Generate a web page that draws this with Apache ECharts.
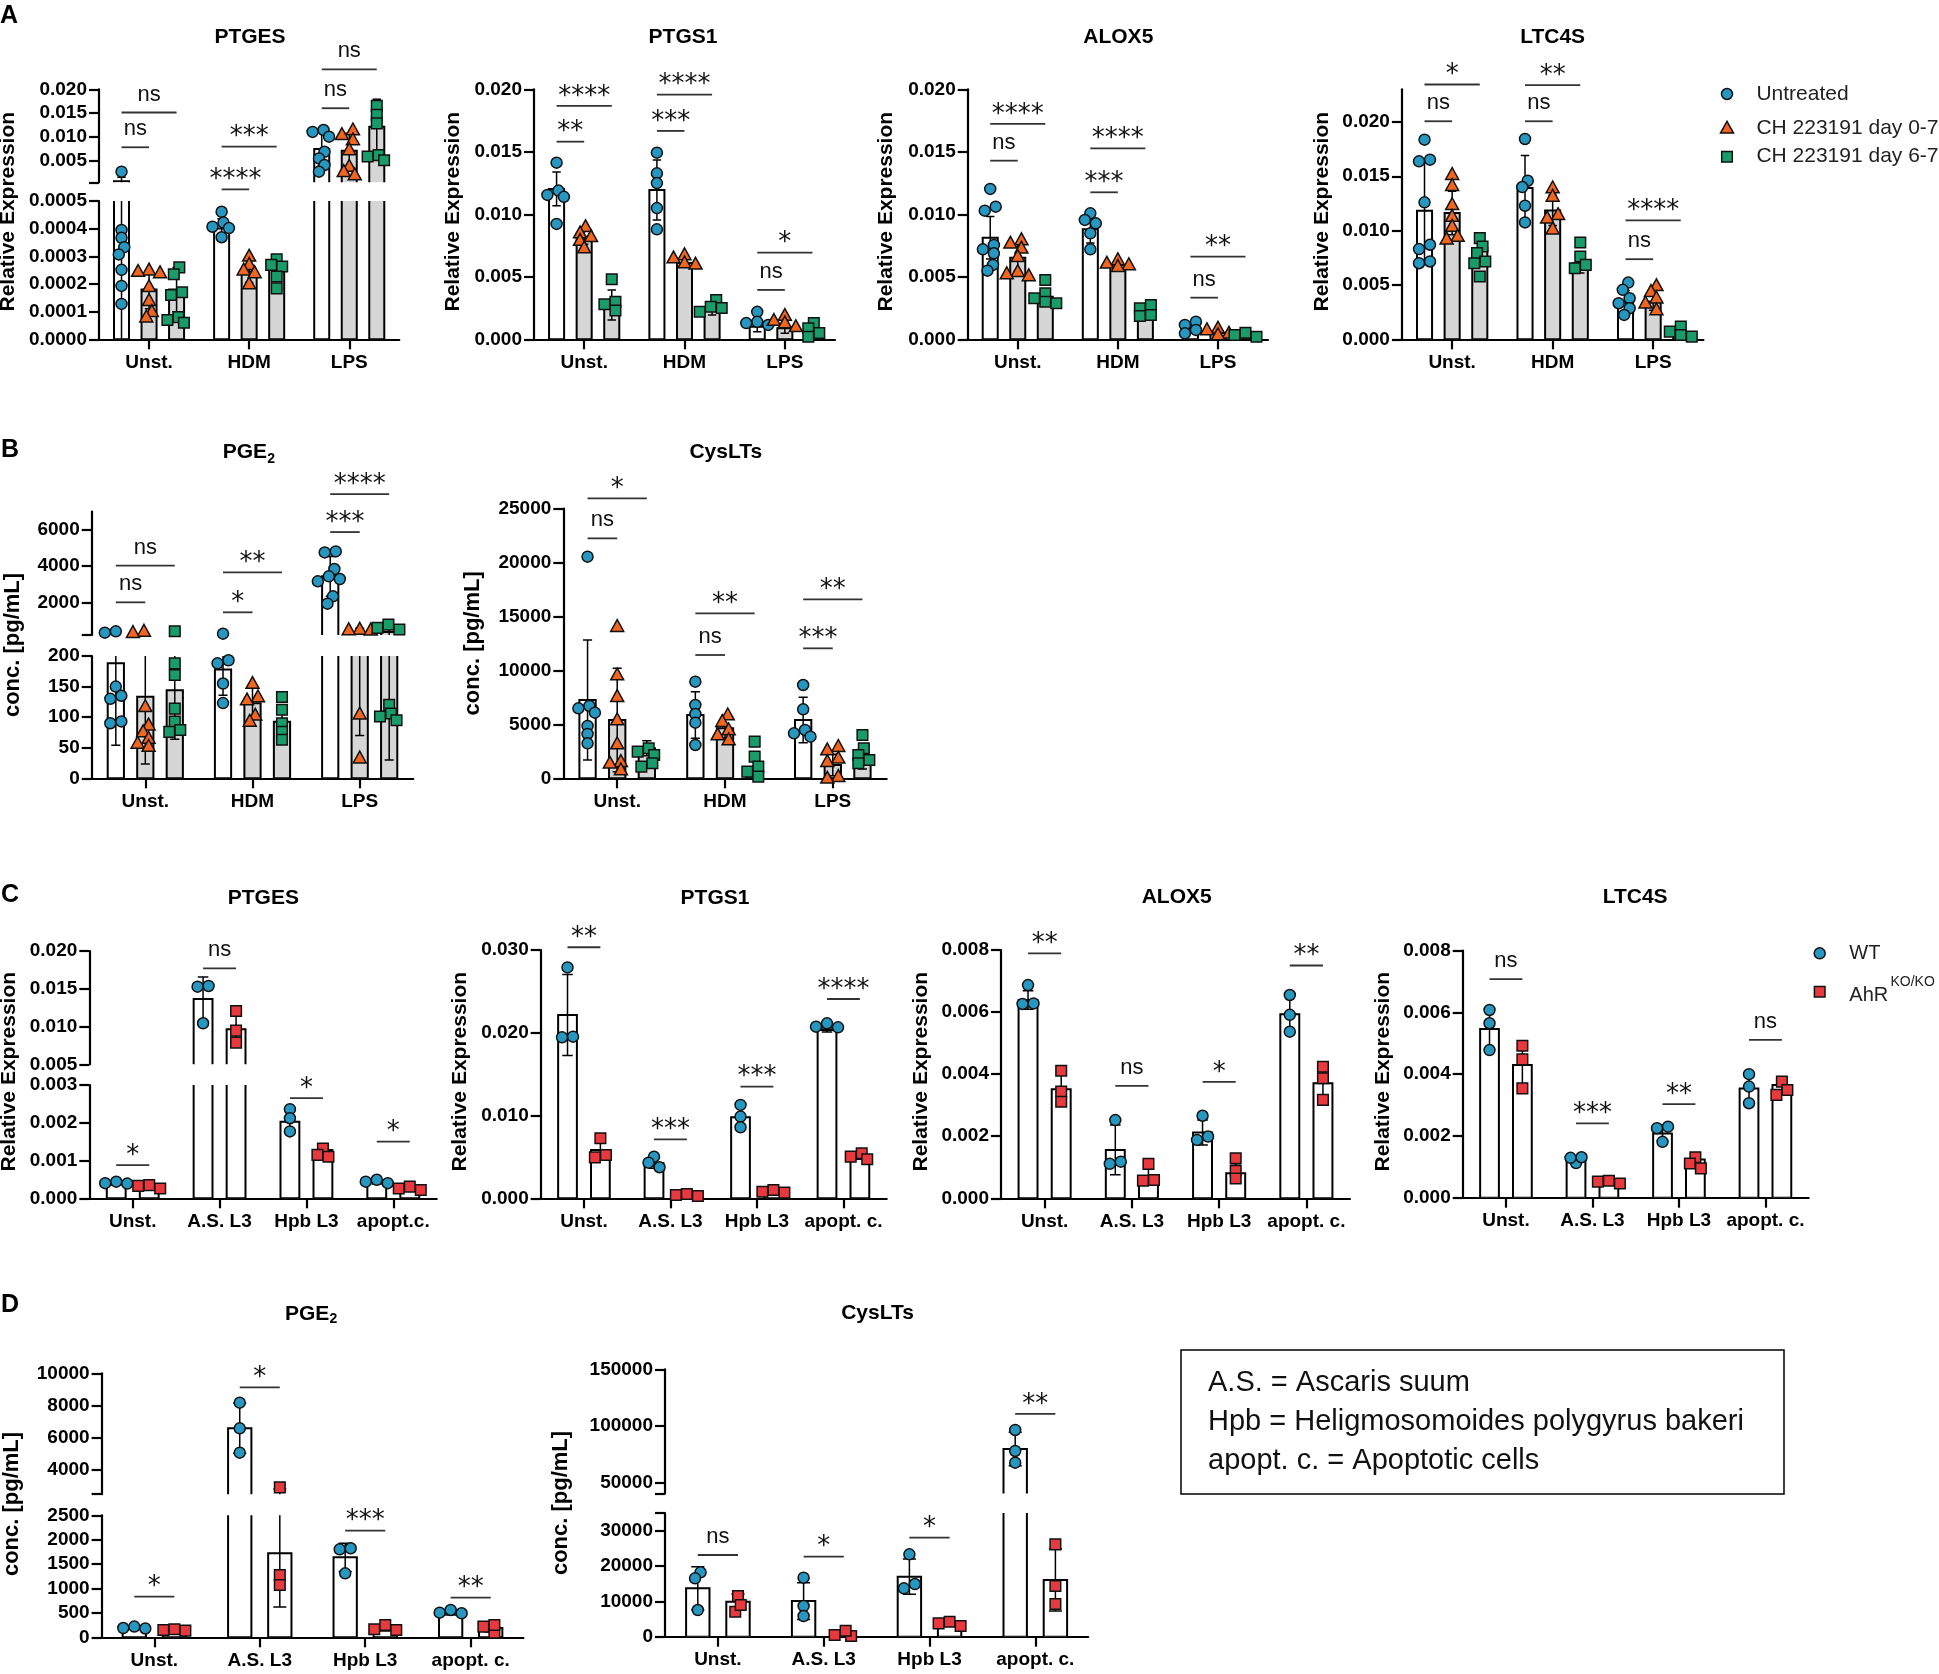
<!DOCTYPE html>
<html><head><meta charset="utf-8">
<script src="https://cdn.jsdelivr.net/npm/echarts@6.0.0/dist/echarts.min.js"></script>
<style>html,body{margin:0;padding:0;background:#fff}#c{width:1939px;height:1674px}</style>
</head><body><div id="c"></div><script>
// ======================= DATA =======================
// Panel A (qPCR, CH 223191 treatment)
const A_groups = ['Untreated', 'CH 223191 day 0-7', 'CH 223191 day 6-7'];
const A_cats = ['Unst.', 'HDM', 'LPS'];
const A1_yLow = [0, 0.0001, 0.0002, 0.0003, 0.0004, 0.0005];
const A1_yUp = [0.005, 0.010, 0.015, 0.020];
const A_yTicks = [0, 0.005, 0.010, 0.015, 0.020];

const A1_mean = [[0.00058, 0.00018, 0.00018], [0.000401, 0.000245, 0.000255], [0.0074, 0.0070, 0.0121]];
const A1_sd = [[0.00082, 0.00007, 0.00008], [0.000035, 0.00004, 0.000042], [0.0035, 0.0037, 0.0058]];
const A1_pts = [
  [[0.0026, 0.000395, 0.000367, 0.000333, 0.000307, 0.000251, 0.000193, 0.000128], [0.00025, 0.000245, 0.00024, 0.00019, 0.00014, 0.0001, 0.00008], [0.00026, 0.000235, 0.00017, 0.00016, 0.00008, 0.00007, 0.00006]],
  [[0.000461, 0.000422, 0.000407, 0.000402, 0.000369], [0.0003, 0.00027, 0.00025, 0.00024, 0.0002], [0.000289, 0.000269, 0.000263, 0.000227, 0.000184]],
  [[0.0114, 0.011, 0.010, 0.0068, 0.0054, 0.004, 0.0026], [0.0114, 0.0104, 0.0093, 0.0072, 0.0037, 0.0026, 0.0019], [0.0165, 0.0146, 0.0128, 0.0061, 0.0058, 0.005]]
];
const A1_sig = [[0,0,1,0.00775,'ns',1],[0,0,2,0.0151,'ns',1],[1,0,1,0.000542,'****',0],[1,0,2,0.0079,'***',1],[2,0,1,0.016,'ns',1],[2,0,2,0.0242,'ns',1]];

const A2_mean = [[0.01203, 0.0082, 0.00275], [0.01195, 0.0061, 0.00235], [0.0010, 0.00088, 0.0006]];
const A2_sd = [[0.00135, 0.0006, 0.0012], [0.0024, 0.0003, 0.0004], [0.0004, 0.0004, 0.0004]];
const A2_pts = [
  [[0.01413, 0.0119, 0.01155, 0.0114, 0.00923], [0.009, 0.0085, 0.0082, 0.0079, 0.0073], [0.0048, 0.003, 0.0028, 0.0023]],
  [[0.01493, 0.01328, 0.0125, 0.0105, 0.0088], [0.00675, 0.0065, 0.0061, 0.006], [0.00315, 0.0026, 0.0025, 0.0022]],
  [[0.0022, 0.0014, 0.0013, 0.00115], [0.0019, 0.0015, 0.0013, 0.001], [0.0013, 0.00088, 0.0005, 0.0002]]
];
const A2_sig = [[0,0,1,0.01581,'**'],[0,0,2,0.01867,'****'],[1,0,1,0.01667,'***'],[1,0,2,0.01957,'****'],[2,0,1,0.00395,'ns'],[2,0,2,0.00693,'*']];

const A3_mean = [[0.00813, 0.00653, 0.00341], [0.0088, 0.00595, 0.00221], [0.0009, 0.0005, 0.00035]];
const A3_sd = [[0.0017, 0.0011, 0.0006], [0.0011, 0.0002, 0.0004], [0.0004, 0.0002, 0.00015]];
const A3_pts = [
  [[0.01203, 0.01061, 0.01029, 0.00755, 0.0072, 0.00688, 0.00595, 0.00549], [0.00795, 0.00768, 0.00728, 0.00661, 0.00541, 0.00523, 0.00507], [0.00475, 0.00368, 0.00328, 0.00301, 0.00288]],
  [[0.01008, 0.00955, 0.00928, 0.00848, 0.0072], [0.00635, 0.00608, 0.00595, 0.00581], [0.00275, 0.00248, 0.00195, 0.00187]],
  [[0.00141, 0.00115, 0.00075, 0.00048], [0.00088, 0.00075, 0.00048, 0.00035], [0.00053, 0.00035, 0.0002]]
];
const A3_sig = [[0,0,1,0.01429,'ns'],[0,0,2,0.01723,'****'],[1,0,1,0.01176,'***'],[1,0,2,0.01528,'****'],[2,0,1,0.00333,'ns'],[2,0,2,0.00661,'**']];

const A4_mean = [[0.01183, 0.01161, 0.00839], [0.01392, 0.01186, 0.007], [0.00347, 0.00347, 0.00055]];
const A4_sd = [[0.0047, 0.002, 0.0012], [0.003, 0.0014, 0.0009], [0.001, 0.0008, 0.0004]];
const A4_pts = [
  [[0.01837, 0.01653, 0.01637, 0.0126, 0.0087, 0.0083, 0.00716, 0.007], [0.01515, 0.01413, 0.01238, 0.0113, 0.01038, 0.00946, 0.00922], [0.00931, 0.00854, 0.00793, 0.00716, 0.007, 0.00578]],
  [[0.01843, 0.01459, 0.01401, 0.01229, 0.01075], [0.01392, 0.01315, 0.01146, 0.01115, 0.01014], [0.00891, 0.00762, 0.00685, 0.00654]],
  [[0.00522, 0.00455, 0.00378, 0.00332, 0.00286, 0.00224], [0.00492, 0.00439, 0.00378, 0.00332, 0.0027], [0.00117, 0.00071, 0.0004, 0.00025]]
];
const A4_sig = [[0,0,1,0.02006,'ns'],[0,0,2,0.02344,'*'],[1,0,1,0.02006,'ns'],[1,0,2,0.02338,'**'],[2,0,1,0.00737,'ns'],[2,0,2,0.01094,'****']];

// Panel B (ELISA)
const B1_yLow = [0, 50, 100, 150, 200];
const B1_yUp = [2000, 4000, 6000];
const B2_yTicks = [0, 5000, 10000, 15000, 20000, 25000];
const B1_mean = [[188, 133.5, 144], [178, 122.6, 92.6], [3431, 320, 360]];
const B1_sd = [[134, 110, 80], [42, 25, 25], [1100, 250, 330]];
const B1_pts = [
  [[400, 330, 150, 135, 130, 93, 90], [400, 330, 117, 87, 76, 65, 57, 52], [404, 188, 169, 114, 93, 79, 76]],
  [[275, 193, 188, 155, 123], [155, 133, 128, 103, 93], [133, 112, 90, 76, 63]],
  [[4807, 4752, 3835, 3431, 3284, 3156, 2330, 1927], [510, 480, 470, 105, 33], [770, 590, 500, 120, 106, 101, 95]]
];
const B1_sig = [[0,0,1,2000,'ns',1],[0,0,2,4018,'ns',1],[1,0,1,1450,'*',1],[1,0,2,3651,'**',1],[2,0,1,5872,'***',1],[2,0,2,7963,'****',1]];

const B2_mean = [[7262, 5408, 2781], [5871, 4635, 772], [5408, 1236, 1854]];
const B2_sd = [[5560, 4790, 700], [2160, 900, 1100], [2100, 1000, 1000]];
const B2_pts = [
  [[20550, 6706, 6490, 6088, 4852, 4110, 3245], [14060, 9580, 7571, 5408, 3183, 1545, 1390, 772], [2781, 2472, 2163, 1390, 1082]],
  [[8962, 6798, 5964, 5161, 3090], [5871, 5253, 4481, 4017, 3554], [3400, 2009, 1082, 618, 155]],
  [[8652, 6397, 4481, 4172, 3863], [2936, 2627, 1854, 1545, 155, 0], [4017, 2781, 2163, 1700, 1390]]
];
const B2_sig = [[0,0,1,22250,'ns'],[0,0,2,25958,'*'],[1,0,1,11434,'ns'],[1,0,2,15297,'**'],[2,0,1,12052,'***'],[2,0,2,16595,'**']];

// Panel C (qPCR, WT vs AhR KO)
const C_groups = ['WT', 'AhR KO/KO'];
const C1_cats = ['Unst.', 'A.S. L3', 'Hpb L3', 'apopt.c.'];
const C_cats = ['Unst.', 'A.S. L3', 'Hpb L3', 'apopt. c.'];
const C1_yLow = [0, 0.001, 0.002, 0.003];
const C1_yUp = [0.005, 0.010, 0.015, 0.020];
const C2_yTicks = [0, 0.010, 0.020, 0.030];
const C34_yTicks = [0, 0.002, 0.004, 0.006, 0.008];

const C1_mean = [[0.00038, 0.0003], [0.01365, 0.00963], [0.00203, 0.00128], [0.00043, 0.00026]];
const C1_sd = [[0.00003, 0.00005], [0.0029, 0.0021], [0.0003, 0.0001], [0.00005, 0.00005]];
const C1_pts = [
  [[0.00044, 0.0004, 0.00039], [0.00035, 0.00026, 0.00033]],
  [[0.01043, 0.01537, 0.01528], [0.01206, 0.00946, 0.00787]],
  [[0.00236, 0.00212, 0.00177], [0.00132, 0.00115, 0.0011]],
  [[0.00044, 0.00049, 0.0004], [0.00022, 0.00031, 0.00026]]
];
const C1_sig = [[0,0,1,0.00088,'*',0],[1,0,1,0.0177,'ns',1],[2,0,1,0.00265,'*',0],[3,0,1,0.0015,'*',0]];

const C2_mean = [[0.02215, 0.00584], [0.00423, 0.0004], [0.00979, 0.00068], [0.02034, 0.00503]];
const C2_sd = [[0.0049, 0.0012], [0.0006, 0.00012], [0.0013, 0.0002], [0.00025, 0.0003]];
const C2_pts = [
  [[0.0279, 0.01953, 0.01945], [0.00725, 0.00524, 0.00495]],
  [[0.00503, 0.00431, 0.00375], [0.00052, 0.0004, 0.00028]],
  [[0.01128, 0.00987, 0.00858], [0.00101, 0.0008, 0.00068]],
  [[0.02114, 0.02074, 0.02066], [0.00544, 0.00503, 0.00471]]
];
const C2_sig = [[0,0,1,0.03033,'**'],[1,0,1,0.00713,'***'],[2,0,1,0.01349,'***'],[3,0,1,0.02408,'****']];

const C3_mean = [[0.00639, 0.00351], [0.00156, 0.00072], [0.00212, 0.00081], [0.00593, 0.00371]];
const C3_sd = [[0.0003, 0.0005], [0.0008, 0.0003], [0.0004, 0.0003], [0.0006, 0.0005]];
const C3_pts = [
  [[0.00687, 0.00628, 0.00626], [0.00411, 0.00344, 0.00311]],
  [[0.00252, 0.00118, 0.00111], [0.00111, 0.00059, 0.00057]],
  [[0.00266, 0.00199, 0.00188], [0.00129, 0.00089, 0.00064]],
  [[0.00655, 0.00591, 0.00537], [0.00424, 0.00387, 0.00317]]
];
const C3_sig = [[0,0,1,0.00789,'**'],[1,0,1,0.00362,'ns'],[2,0,1,0.00375,'*'],[3,0,1,0.0075,'**']];

const C4_mean = [[0.00546, 0.0043], [0.00122, 0.00052], [0.00208, 0.00124], [0.00354, 0.00365]];
const C4_sd = [[0.00065, 0.0007], [0.0001, 0.00005], [0.00027, 0.00018], [0.00047, 0.0002]];
const C4_pts = [
  [[0.00608, 0.00565, 0.00478], [0.00492, 0.00448, 0.00354]],
  [[0.00112, 0.00131, 0.00129], [0.00052, 0.00055, 0.00046]],
  [[0.0023, 0.00225, 0.00181], [0.00131, 0.00111, 0.00095]],
  [[0.004, 0.0036, 0.00306], [0.00376, 0.00349, 0.00333]]
];
const C4_sig = [[0,0,1,0.00708,'ns'],[1,0,1,0.00241,'***'],[2,0,1,0.00303,'**'],[3,0,1,0.00511,'ns']];

// Panel D (ELISA, WT vs AhR KO)
const D1_yLow = [0, 500, 1000, 1500, 2000, 2500];
const D1_yUp = [4000, 6000, 8000, 10000];
const D2_yLow = [0, 10000, 20000, 30000];
const D2_yUp = [50000, 100000, 150000];
const D1_mean = [[198, 160], [6585, 1721], [1639, 184], [492, 190]];
const D1_sd = [[20, 15], [1550, 1100], [290, 55], [35, 80]];
const D1_pts = [
  [[190, 220, 180], [150, 164, 137]],
  [[8177, 6585, 5075], [2925, 1277, 1072]],
  [[1824, 1803, 1311], [164, 253, 150]],
  [[492, 560, 505], [96, 253, 219]]
];
const D1_sig = [[0,0,1,833,'*',0],[1,0,1,9129,'*',1],[2,0,1,2186,'***',0],[3,0,1,813,'**',0]];

const D2_mean = [[13679, 9900], [10094, 755], [16981, 3774], [79499, 16038]];
const D2_sd = [[6100, 2200], [5200, 800], [5000, 600], [14800, 8800]];
const D2_pts = [
  [[18208, 16509, 7547], [11509, 7075, 8962]],
  [[16698, 8679, 5849], [189, 1698, 472]],
  [[23302, 13679, 14906], [3019, 4245, 3774]],
  [[96313, 77729, 67404], [26132, 14340, 9245]]
];
const D2_sig = [[0,0,1,23113,'ns',0],[1,0,1,22642,'*',0],[2,0,1,28019,'*',0],[3,0,1,110472,'**',1]];

const NOTE_LINES = ['A.S. = Ascaris suum', 'Hpb = Heligmosomoides polygyrus bakeri', 'apopt. c. = Apoptotic cells'];

// ======================= STYLE / LAYOUT =======================
const FONT = "'Liberation Sans', Arial, Helvetica, sans-serif";
const TEAL = '#2597c0', ORANGE = '#f1651f', GREEN = '#199c69', RED = '#e8393e', GRAY = '#d6d6d6';
const RE = 'Relative Expression', CONC = 'conc. [pg/mL]';

function one(min, max, top, bottom, t, dec) { return [{min, max, top, bottom, labels: t, ticks: t, dec}]; }

const P = [
  {cats:A_cats, mean:A1_mean, sd:A1_sd, pts:A1_pts, sig:A1_sig, ng:3, left:99, right:399.3,
   segs:[{min:0, max:0.0005, top:201, bottom:339.3, labels:A1_yLow, ticks:A1_yLow, dec:4},
         {min:0.00035, max:0.020, top:89.3, bottom:182.3, labels:A1_yUp, ticks:[0.00035].concat(A1_yUp), dec:3}],
   title:'PTGES', tx:250, ty:37, yt:RE, ytx:8.5, yty:211.7},
  {cats:A_cats, mean:A2_mean, sd:A2_sd, pts:A2_pts, sig:A2_sig, ng:3, left:534, right:835,
   segs:one(0, 0.020, 89.3, 339.3, A_yTicks, 3), title:'PTGS1', tx:683, ty:37, yt:RE, ytx:453.3, yty:211.7},
  {cats:A_cats, mean:A3_mean, sd:A3_sd, pts:A3_pts, sig:A3_sig, ng:3, left:967.7, right:1268,
   segs:one(0, 0.020, 89.3, 339.3, A_yTicks, 3), title:'ALOX5', tx:1118.3, ty:37, yt:RE, ytx:886.7, yty:211.7},
  {cats:A_cats, mean:A4_mean, sd:A4_sd, pts:A4_pts, sig:A4_sig, ng:3, left:1401.9, right:1703.4,
   segs:one(0, 0.023, 89.3, 339.3, A_yTicks, 3), title:'LTC4S', tx:1552.6, ty:37, yt:RE, ytx:1322.4, yty:211.7},

  {cats:A_cats, mean:B1_mean, sd:B1_sd, pts:B1_pts, sig:B1_sig, ng:3, left:91.7, right:413.3,
   segs:[{min:0, max:200, top:656, bottom:778.3, labels:B1_yLow, ticks:B1_yLow, dec:0},
         {min:200, max:7000, top:511.6, bottom:635, labels:B1_yUp, ticks:[200].concat(B1_yUp), dec:0}],
   title:'PGE', sub:true, tx:222.7, ty:452.5, suby:459, yt:CONC, ytx:12.5, yty:645},
  {cats:A_cats, mean:B2_mean, sd:B2_sd, pts:B2_pts, sig:B2_sig, ng:3, left:563.3, right:886.7,
   segs:one(0, 25000, 508.7, 778.3, B2_yTicks, 0), title:'CysLTs', tx:725.8, ty:452.5, yt:CONC, ytx:473.3, yty:643.3},

  {cats:C1_cats, mean:C1_mean, sd:C1_sd, pts:C1_pts, sig:C1_sig, ng:2, left:89.3, right:436.7,
   segs:[{min:0, max:0.003, top:1085, bottom:1198.3, labels:C1_yLow, ticks:C1_yLow, dec:3},
         {min:0.005, max:0.020, top:951, bottom:1064.3, labels:C1_yUp, ticks:C1_yUp, dec:3}],
   title:'PTGES', tx:263.3, ty:898.3, yt:RE, ytx:9.2, yty:1071.7},
  {cats:C_cats, mean:C2_mean, sd:C2_sd, pts:C2_pts, sig:C2_sig, ng:2, left:540.7, right:886.7,
   segs:one(0, 0.030, 950, 1198.3, C2_yTicks, 3), title:'PTGS1', tx:715, ty:898.3, yt:RE, ytx:460.5, yty:1071.7},
  {cats:C_cats, mean:C3_mean, sd:C3_sd, pts:C3_pts, sig:C3_sig, ng:2, left:1001, right:1350,
   segs:one(0, 0.008, 950, 1198.3, C34_yTicks, 3), title:'ALOX5', tx:1176.7, ty:897, yt:RE, ytx:921, yty:1071.7},
  {cats:C_cats, mean:C4_mean, sd:C4_sd, pts:C4_pts, sig:C4_sig, ng:2, left:1462.7, right:1808.7,
   segs:one(0, 0.008, 950.7, 1197.7, C34_yTicks, 3), title:'LTC4S', tx:1635.1, ty:897, yt:RE, ytx:1382.9, yty:1071.7},

  {cats:C_cats, mean:D1_mean, sd:D1_sd, pts:D1_pts, sig:D1_sig, ng:2, left:101.6, right:523.4,
   segs:[{min:0, max:2500, top:1515.3, bottom:1637.3, labels:D1_yLow, ticks:D1_yLow, dec:0},
         {min:2500, max:10000, top:1373.3, bottom:1494.2, labels:D1_yUp, ticks:[2500].concat(D1_yUp), dec:0}],
   title:'PGE', sub:true, tx:285, ty:1314, suby:1319, yt:CONC, ytx:12, yty:1504},
  {cats:C_cats, mean:D2_mean, sd:D2_sd, pts:D2_pts, sig:D2_sig, ng:2, left:665, right:1088.2,
   segs:[{min:0, max:35000, top:1513, bottom:1636.7, labels:D2_yLow, ticks:D2_yLow.concat([35000]), dec:0},
         {min:40000, max:150000, top:1369.3, bottom:1493.6, labels:D2_yUp, ticks:[40000].concat(D2_yUp), dec:0}],
   title:'CysLTs', tx:877.5, ty:1313.5, yt:CONC, ytx:561.4, yty:1503}
];

function layoutOf(ng, band) {
  if (ng === 3) return {off: [-0.275 * band, 0, 0.275 * band], bw: 0.17 * band - 2};
  return {off: [-0.19 * band, 0.19 * band], bw: 0.24 * band - 2};
}
function colorOf(ng, g) { return ng === 3 ? [TEAL, ORANGE, GREEN][g] : [TEAL, RED][g]; }
function shapeOf(ng, g) { return ng === 3 ? ['circle', 'triangle', 'square'][g] : ['circle', 'square'][g]; }
function symbolEl(shape, x, y, fill) {
  const st = {fill: fill, stroke: '#111', lineWidth: 1.5};
  if (shape === 'circle') return {type: 'circle', shape: {cx: x, cy: y, r: 5.5}, style: st};
  if (shape === 'triangle') return {type: 'polygon', shape: {points: [[x, y - 7], [x - 6.5, y + 4.8], [x + 6.5, y + 4.8]]}, style: st};
  return {type: 'rect', shape: {x: x - 5.3, y: y - 5.3, width: 10.6, height: 10.6}, style: st};
}
// Prism-like column scatter: nudge overlapping points sideways, centred per cluster
const SW_STEP = 5.5, SW_MIN = 7.5;
function swarm(ys) {
  const n = ys.length, order = ys.map((y, i) => i).sort((a, b) => ys[a] - ys[b]);
  const xs = new Array(n).fill(0), placed = [];
  const steps = [0, -1, 1, -2, 2, -3, 3];
  order.forEach(i => {
    for (const s of steps) {
      const x = s * SW_STEP;
      if (placed.every(j => Math.hypot(xs[j] - x, ys[j] - ys[i]) >= SW_MIN)) { xs[i] = x; break; }
    }
    placed.push(i);
  });
  const comp = new Array(n).fill(-1); let cid = 0;
  for (let i = 0; i < n; i++) {
    if (comp[i] >= 0) continue;
    const stack = [i]; comp[i] = cid;
    while (stack.length) {
      const a = stack.pop();
      for (let b = 0; b < n; b++) if (comp[b] < 0 && Math.abs(ys[a] - ys[b]) < SW_MIN) { comp[b] = cid; stack.push(b); }
    }
    cid++;
  }
  for (let c = 0; c < cid; c++) {
    const mem = []; for (let i = 0; i < n; i++) if (comp[i] === c) mem.push(i);
    const m = mem.reduce((s, i) => s + xs[i], 0) / mem.length;
    mem.forEach(i => { xs[i] -= m; });
  }
  return xs;
}

function makeBarRender(p, si) {
  const seg = p.segs[si], upper = si > 0, below = upper ? p.segs[si - 1].max : -Infinity;
  return function (params, api) {
    const c = api.value(0), g = api.value(1), m = api.value(2), sd = api.value(3);
    const cs = params.coordSys;
    const band = api.size([1, 0])[0];
    const L = layoutOf(p.ng, band);
    const base = api.coord([c, m]);
    const cx = base[0] + L.off[g];
    const yTop = base[1];
    const yBot = cs.y + cs.height + (upper ? 14 : 0);
    const half = L.bw / 2, cap = L.bw * 0.28;
    const fill = (p.ng === 3 && g > 0) ? GRAY : '#fff';
    const ch = [];
    if (m > below) {
      ch.push({type: 'rect', shape: {x: cx - half, y: yTop, width: L.bw, height: yBot - yTop}, style: {fill: fill, stroke: '#000', lineWidth: 2}});
    }
    const lo = Math.max(m - sd, 0);
    const yHi = api.coord([c, m + sd])[1], yLo = api.coord([c, lo])[1];
    const es = {stroke: '#000', lineWidth: 1.5};
    if (!upper || m + sd > below) {
      ch.push({type: 'line', shape: {x1: cx, y1: yHi, x2: cx, y2: yLo}, style: es});
      ch.push({type: 'line', shape: {x1: cx - cap, y1: yHi, x2: cx + cap, y2: yHi}, style: es});
      if (m - sd > 0) ch.push({type: 'line', shape: {x1: cx - cap, y1: yLo, x2: cx + cap, y2: yLo}, style: es});
    }
    return {type: 'group', children: ch};
  };
}
function makePtRender(p) {
  return function (params, api) {
    const c = api.value(0), g = api.value(1), v = api.value(2), k = api.value(3);
    const band = api.size([1, 0])[0];
    const L = layoutOf(p.ng, band);
    const list = p.pts[c][g];
    const ys = list.map(val => api.coord([c, val])[1]);
    const xs = swarm(ys);
    const pt = api.coord([c, v]);
    return symbolEl(shapeOf(p.ng, g), pt[0] + L.off[g] + xs[k], pt[1], colorOf(p.ng, g));
  };
}
function makeSigRender(p) {
  return function (params, api) {
    const a = p.sig[api.value(2)];
    const band = api.size([1, 0])[0];
    const L = layoutOf(p.ng, band);
    const base = api.coord([a[0], a[3]]);
    const x1 = base[0] + L.off[a[1]], x2 = base[0] + L.off[a[2]];
    const ns = a[4] === 'ns';
    return {type: 'group', children: [
      {type: 'line', shape: {x1: x1, y1: base[1], x2: x2, y2: base[1]}, style: {stroke: '#333', lineWidth: 1.8}},
      {type: 'text', x: (x1 + x2) / 2, y: base[1] + (ns ? -18 : -9),
       style: {text: a[4], fill: '#111', align: 'center', verticalAlign: 'middle', textAlign: 'center', textVerticalAlign: 'middle',
               font: ns ? ('22px ' + FONT) : "26px 'DejaVu Sans', sans-serif"}}
    ]};
  };
}

// ======================= BUILD OPTION =======================
const grids = [], xAxes = [], yAxes = [], series = [], graphics = [];
function segOf(p, v) { for (let i = 0; i < p.segs.length; i++) if (v <= p.segs[i].max) return i; return p.segs.length - 1; }

P.forEach((p, pi) => {
  p.segs.forEach((s, si) => {
    const gi = grids.length;
    const main = si === 0;
    grids.push({left: p.left, top: s.top, width: p.right - p.left, height: s.bottom - s.top, containLabel: false, outerBoundsMode: 'none'});
    xAxes.push({type: 'category', gridIndex: gi, data: p.cats, boundaryGap: true, show: main,
      axisLine: {show: main, onZero: false, lineStyle: {color: '#000', width: 2.2}},
      axisTick: {show: main, alignWithLabel: true, length: 10, lineStyle: {color: '#000', width: 2.2}},
      axisLabel: {show: main, interval: 0, color: '#000', fontFamily: 'Liberation Sans', fontWeight: 'bold', fontSize: 19, margin: 14},
      splitLine: {show: false}});
    const dec = s.dec;
    yAxes.push({type: 'value', gridIndex: gi, min: s.min, max: s.max, position: 'left',
      axisLine: {show: true, onZero: false, lineStyle: {color: '#000', width: 2.2}},
      axisTick: {show: true, length: 10, customValues: s.ticks, lineStyle: {color: '#000', width: 2.2}},
      axisLabel: {show: true, customValues: s.labels, formatter: v => Number(v).toFixed(dec), color: '#000',
        fontFamily: 'Liberation Sans', fontWeight: 'bold', fontSize: 19, margin: 12},
      splitLine: {show: false}});

    const bars = [];
    p.cats.forEach((c, ci) => { for (let g = 0; g < p.ng; g++) bars.push([ci, g, p.mean[ci][g], p.sd[ci][g]]); });
    series.push({type: 'custom', xAxisIndex: gi, yAxisIndex: gi, clip: true, z: 3, silent: true,
      encode: {x: 0, y: 2}, data: bars, renderItem: makeBarRender(p, si)});

    const pts = [];
    p.cats.forEach((c, ci) => {
      for (let g = 0; g < p.ng; g++) p.pts[ci][g].forEach((v, k) => { if (segOf(p, v) === si) pts.push([ci, g, v, k]); });
    });
    series.push({type: 'custom', xAxisIndex: gi, yAxisIndex: gi, clip: false, z: 4, silent: true,
      encode: {x: 0, y: 2}, data: pts, renderItem: makePtRender(p)});

    const sg = [];
    p.sig.forEach((a, ai) => { if ((a[5] || 0) === si) sg.push([a[0], a[3], ai]); });
    if (sg.length) series.push({type: 'custom', xAxisIndex: gi, yAxisIndex: gi, clip: false, z: 5, silent: true,
      encode: {x: 0, y: 1}, data: sg, renderItem: makeSigRender(p)});
  });
});

function txt(x, y, text, font, align, extra, fill) {
  return Object.assign({type: 'text', x: x, y: y, silent: true,
    style: {text: text, font: font, fill: fill || '#000', align: align, verticalAlign: 'middle', textAlign: align, textVerticalAlign: 'middle'}}, extra || {});
}
// panel letters
[['A', 0, 16.5], ['B', 1, 450], ['C', 1, 895], ['D', 1, 1305]].forEach(l => graphics.push(txt(l[1], l[2], l[0], 'bold 25px ' + FONT, 'left')));
// titles and y titles
P.forEach(p => {
  if (p.sub) {
    graphics.push(txt(p.tx, p.ty, p.title, 'bold 21px ' + FONT, 'left'));
    graphics.push(txt(p.tx + 44.5, p.suby, '2', 'bold 14px ' + FONT, 'left'));
  } else {
    graphics.push(txt(p.tx, p.ty, p.title, 'bold 21px ' + FONT, 'center'));
  }
  graphics.push(txt(p.ytx, p.yty, p.yt, 'bold ' + (p.yt === CONC ? 22 : 21) + 'px ' + FONT, 'center', {rotation: Math.PI / 2}));
});
// legend A
const legA = [[94, 'circle', TEAL], [128.3, 'triangle', ORANGE], [156.7, 'square', GREEN]];
legA.forEach((l, i) => {
  const el = symbolEl(l[1], 1727, l[0], l[2]); el.silent = true; graphics.push(el);
  graphics.push(txt(1756.4, l[0], A_groups[i], '21px ' + FONT, 'left', null, '#222'));
});
// legend C
const cm1 = symbolEl('circle', 1819.7, 953.3, TEAL); cm1.silent = true; graphics.push(cm1);
const cm2 = symbolEl('square', 1819.7, 991.7, RED); cm2.silent = true; graphics.push(cm2);
graphics.push(txt(1849.3, 953, C_groups[0], '20px ' + FONT, 'left', null, '#222'));
graphics.push(txt(1849.3, 995, 'AhR', '20px ' + FONT, 'left', null, '#222'));
graphics.push(txt(1890.5, 982.5, 'KO/KO', '14px ' + FONT, 'left', null, '#222'));
// note box
graphics.push({type: 'rect', silent: true, shape: {x: 1181, y: 1350, width: 603, height: 144}, style: {fill: 'rgba(0,0,0,0)', stroke: '#000', lineWidth: 1.5}});
[1382.6, 1422, 1460.5].forEach((y, i) => graphics.push(txt(1208, y, NOTE_LINES[i], '29px ' + FONT, 'left', null, '#111')));

const chart = echarts.init(document.getElementById('c'), null, {renderer: 'canvas', width: 1939, height: 1674});
chart.setOption({animation: false, backgroundColor: '#fff', grid: grids, xAxis: xAxes, yAxis: yAxes, series: series, graphic: {elements: graphics}});
</script></body></html>
